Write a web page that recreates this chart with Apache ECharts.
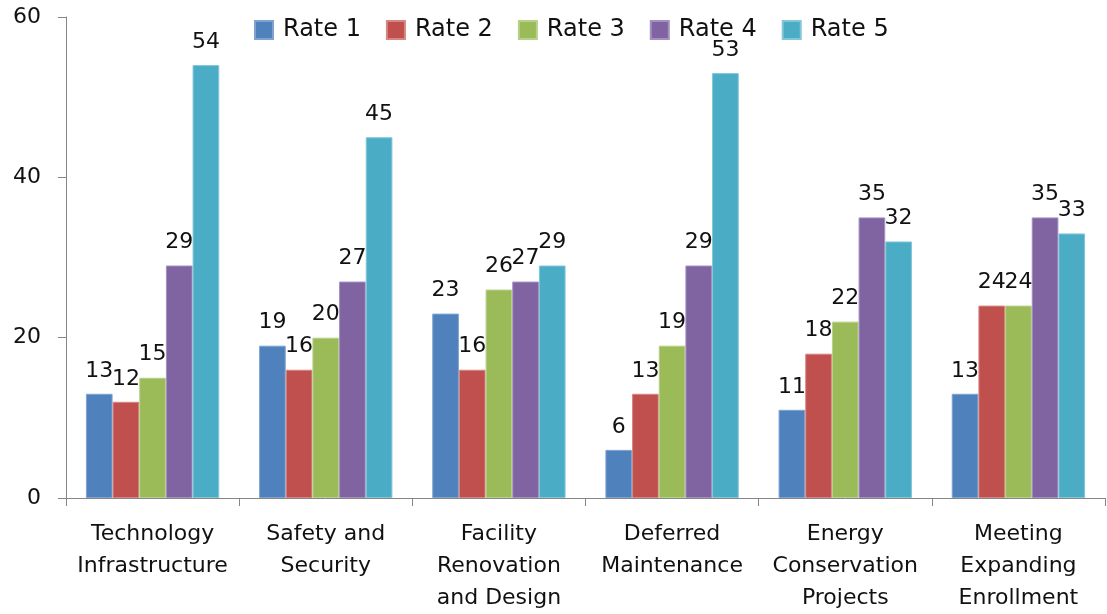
<!DOCTYPE html>
<html>
<head>
<meta charset="utf-8">
<script src="https://cdn.jsdelivr.net/npm/echarts@6/dist/echarts.min.js"></script>
<style>
	html, body { margin: 0; padding: 0; background: #fff; }
	#chart { width: 1107px; height: 614px; }
</style>
</head>
<body>
<div id="chart"></div>
<script>
// 数据
const categories = ['Technology\nInfrastructure', 'Safety and\nSecurity', 'Facility\nRenovation\nand Design', 'Deferred\nMaintenance', 'Energy\nConservation\nProjects', 'Meeting\nExpanding\nEnrollment'];
const seriesNames = ['Rate 1', 'Rate 2', 'Rate 3', 'Rate 4', 'Rate 5'];
const rate1 = [13, 19, 23, 6, 11, 13];
const rate2 = [12, 16, 16, 13, 18, 24];
const rate3 = [15, 20, 26, 19, 22, 24];
const rate4 = [29, 27, 27, 29, 35, 35];
const rate5 = [54, 45, 29, 53, 32, 33];
const yTicks = [0, 20, 40, 60];

const colors = ['#4F81BD', '#C0504D', '#9BBB59', '#8064A2', '#4BACC6'];
const borders = ['#7fa3d1', '#d68583', '#b7d08a', '#a290bf', '#82c6d8'];
const font = 'DejaVu Sans, Verdana, sans-serif';

const chart = echarts.init(document.getElementById('chart'));

const allData = [rate1, rate2, rate3, rate4, rate5];

let option = {
	animation: false,
	color: colors,
	grid: {
		left: 66,
		right: 2,
		top: 17,
		bottom: 116
	},
	legend: {
		data: seriesNames,
		top: 13,
		left: 249,
		itemWidth: 18,
		itemHeight: 18,
		itemGap: 25,
		icon: 'rect',
		textStyle: {
			color: '#111',
			fontSize: 24,
			fontFamily: font,
			padding: [0, 0, 0, 5]
		}
	},
	xAxis: [{
		type: 'category',
		data: categories,
		axisLine: {
			lineStyle: { color: '#868686', width: 1 }
		},
		axisTick: {
			show: true,
			length: 8,
			lineStyle: { color: '#868686' }
		},
		axisLabel: {
			color: '#111',
			fontSize: 22,
			fontFamily: font,
			lineHeight: 32,
			margin: 20,
			interval: 0
		}
	}],
	yAxis: [{
		type: 'value',
		min: 0,
		max: 60,
		interval: 20,
		axisLine: {
			show: true,
			lineStyle: { color: '#868686', width: 1 }
		},
		axisTick: {
			show: true,
			length: 8,
			lineStyle: { color: '#868686' }
		},
		splitLine: { show: false },
		axisLabel: {
			color: '#111',
			fontSize: 22,
			fontFamily: font,
			margin: 25,
			formatter: function (v) {
				return yTicks.indexOf(v) >= 0 ? String(v) : '';
			}
		}
	}],
	series: seriesNames.map(function (name, i) {
		return {
			name: name,
			type: 'bar',
			barGap: '0%',
			barCategoryGap: '23%',
			data: allData[i],
			itemStyle: {
				color: colors[i],
				borderColor: borders[i],
				borderWidth: 1
			},
			label: {
				show: true,
				position: 'top',
				distance: 12,
				color: '#111',
				fontSize: 22,
				fontFamily: font
			}
		};
	})
};
chart.setOption(option);
</script>
</body>
</html>
